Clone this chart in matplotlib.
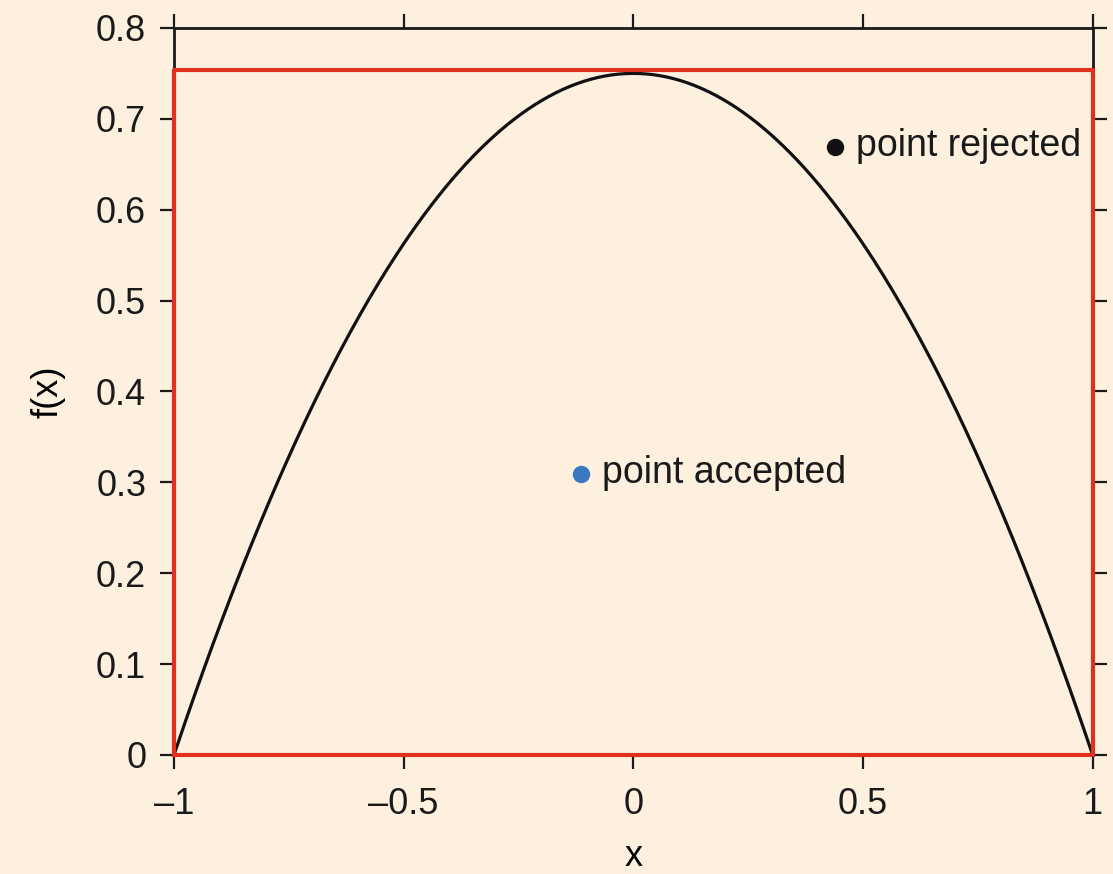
import numpy as np
import matplotlib.pyplot as plt

plt.rcParams['font.family'] = ['Liberation Sans', 'DejaVu Sans']

# Epanechnikov kernel f(x) = 3/4 (1 - x^2) on [-1, 1]
kernel_scale = 0.75
support = [-1.0, 1.0]
box_height = 0.754

# sampled points
accepted_x, accepted_y = [-0.113], [0.309]
rejected_x, rejected_y = [0.440], [0.669]

xticks = [-1, -0.5, 0, 0.5, 1]
xtick_labels = ['\u20131', '\u20130.5', '0', '0.5', '1']
yticks = [0, 0.1, 0.2, 0.3, 0.4, 0.5, 0.6, 0.7, 0.8]
ytick_labels = ['0', '0.1', '0.2', '0.3', '0.4', '0.5', '0.6', '0.7', '0.8']

bg = '#fdf0df'
fig = plt.figure(figsize=(11.13, 8.74), dpi=100, facecolor=bg)
ax = fig.add_axes([0.1563, 0.1362, 0.8254, 0.8318], facecolor=bg)

x = np.linspace(support[0], support[1], 400)
ax.plot(x, kernel_scale * (1 - x**2), color='#111111', lw=2.3, zorder=3)

# bounding box for rejection sampling
ax.plot([support[0], support[0], support[1], support[1], support[0]],
        [0, box_height, box_height, 0, 0],
        color='#e0301e', lw=3.0, clip_on=False, zorder=4)

ax.plot(accepted_x, accepted_y, 'o', color='#3a78c2', ms=11.5, zorder=5)
ax.plot(rejected_x, rejected_y, 'o', color='#111111', ms=11.5, zorder=5)
ax.annotate('point accepted', (accepted_x[0], accepted_y[0]),
            xytext=(15, 1), textcoords='offset points', va='center',
            fontsize=27, color='#1a1a1a')
ax.annotate('point rejected', (rejected_x[0], rejected_y[0]),
            xytext=(15, 1), textcoords='offset points', va='center',
            fontsize=27, color='#1a1a1a')

ax.set_xlim(-1, 1)
ax.set_ylim(0, 0.8)
ax.set_xticks(xticks)
ax.set_xticklabels(xtick_labels)
ax.set_yticks(yticks)
ax.set_yticklabels(ytick_labels)
ax.tick_params(direction='out', length=10, width=1.6, colors='#1a1a1a',
               labelsize=26, top=True, right=True, pad=10)
ax.tick_params(axis='x', pad=13)
for s in ax.spines.values():
    s.set_linewidth(2.0)
    s.set_color('#1a1a1a')

ax.set_xlabel('x', fontsize=26, labelpad=12)
ax.set_ylabel('f(x)', fontsize=26, labelpad=22)

fig.savefig('out.png', dpi=100, facecolor=bg)
